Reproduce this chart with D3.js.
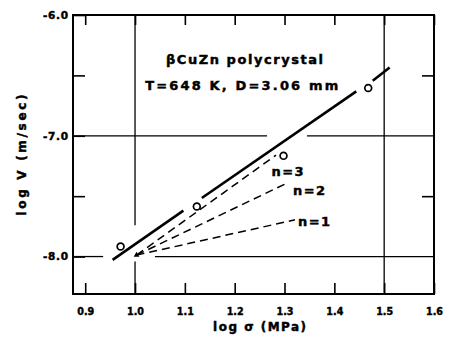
<!DOCTYPE html>
<head>
    <meta charset="utf-8">
    <title>log V vs log sigma</title>
    <script type="text/javascript" src="https://d3js.org/d3.v7.min.js"></script>
    <style>
        body { margin: 0; background: #fff; }
        text { font-family: "DejaVu Sans", "Liberation Sans", Arial, sans-serif; font-weight: bold; fill: #000; stroke: #000; stroke-width: 0.45px; }
    </style>
</head>
<body>
<div id="container"></div>

<script>
    //------------------------------DATA------------------------------//
    const xTicks = [0.9, 1.0, 1.1, 1.2, 1.3, 1.4, 1.5, 1.6];
    const yTicks = [-6.0, -7.0, -8.0];
    const yMinor = [-6.5, -7.5];
    const xGrid = [1.0, 1.5];
    const yGrid = [-7.0, -8.0];

    // measured points (open circles)
    const points = [
        {x: 0.971, y: -7.917},
        {x: 1.124, y: -7.586},
        {x: 1.298, y: -7.166},
        {x: 1.468, y: -6.605}
    ];

    // solid fit line, broken around the circles
    const fitSegments = [
        [[0.955, -8.027], [1.097, -7.620]],
        [[1.134, -7.515], [1.444, -6.632]],
        [[1.477, -6.545], [1.511, -6.435]]
    ];

    // dashed lines for n = 1, 2, 3
    const nLabels = ["n=1", "n=2", "n=3"];
    const nLines = [
        [[1.003, -7.988], [1.321, -7.696]],
        [[1.003, -7.988], [1.305, -7.392]],
        [[1.003, -7.988], [1.283, -7.160]]
    ];
    const nLabelAt = [[1.327, -7.743], [1.317, -7.493], [1.274, -7.332]];

    //------------------------------SVG-------------------------------//
    const W = 452, H = 338;
    const margin = {top: 15, right: 18, bottom: 44, left: 73};
    const width = W - margin.left - margin.right;
    const height = H - margin.top - margin.bottom;
    const FONT = "'DejaVu Sans', 'Liberation Sans', Arial, sans-serif";

    const svg = d3.select("#container").append("svg")
        .attr("width", W)
        .attr("height", H);

    const g = svg.append("g")
        .attr("transform", "translate(" + margin.left + "," + margin.top + ")");

    const x = d3.scaleLinear().domain([0.8755, 1.6]).range([0, width]);
    const y = d3.scaleLinear().domain([-8.31, -6.0]).range([height, 0]);

    //------------------------------GRID------------------------------//
    // gaps in the grid lines, as in the original drawing
    const hGap = {"-7": [1.265, 1.345], "-8": [0.936, 1.04]};
    yGrid.forEach(function(v) {
        const gap = hGap[String(v)];
        const parts = gap ? [[x.domain()[0], gap[0]], [gap[1], x.domain()[1]]] : [x.domain()];
        parts.forEach(function(p) {
            g.append("line")
                .attr("x1", x(p[0])).attr("x2", x(p[1]))
                .attr("y1", y(v)).attr("y2", y(v))
                .attr("stroke", "#000").attr("stroke-width", 1.3);
        });
    });
    const vGap = {"1": [-7.74, -8.04]};
    xGrid.forEach(function(v) {
        const gap = vGap[String(v)];
        const parts = gap ? [[y.domain()[1], gap[0]], [gap[1], y.domain()[0]]] : [[y.domain()[1], y.domain()[0]]];
        parts.forEach(function(p) {
            g.append("line")
                .attr("x1", x(v)).attr("x2", x(v))
                .attr("y1", y(p[0])).attr("y2", y(p[1]))
                .attr("stroke", "#000").attr("stroke-width", 1.3);
        });
    });

    //------------------------------AXES------------------------------//
    const fmt = function(d) { return d.toFixed(1); };

    const xAxis = d3.axisBottom(x)
        .tickValues(xTicks)
        .tickFormat(fmt)
        .tickSizeInner(-11).tickSizeOuter(0)
        .tickPadding(14);
    const gx = g.append("g")
        .attr("transform", "translate(0," + height + ")")
        .call(xAxis);

    const gxTop = g.append("g")
        .call(d3.axisTop(x).tickValues(xTicks).tickFormat("").tickSizeInner(-10).tickSizeOuter(0));

    const yAxis = d3.axisLeft(y)
        .tickValues(yTicks.concat(yMinor))
        .tickFormat(function(d) { return yTicks.indexOf(d) >= 0 ? fmt(d) : ""; })
        .tickSizeInner(-12).tickSizeOuter(0)
        .tickPadding(5);
    const gy = g.append("g").call(yAxis);

    const gyRight = g.append("g")
        .attr("transform", "translate(" + width + ",0)")
        .call(d3.axisRight(y).tickValues(yMinor).tickFormat("").tickSizeInner(-12).tickSizeOuter(0));

    [gx, gxTop, gy, gyRight].forEach(function(a) {
        a.select(".domain").remove();
        a.selectAll(".tick line").attr("stroke", "#000").attr("stroke-width", 1.6);
        a.selectAll("text")
            .style("font-family", FONT)
            .style("font-weight", "bold")
            .style("font-size", "10.5px")
            .attr("fill", "#000");
    });
    gx.selectAll(".tick text").attr("textLength", 17).attr("lengthAdjust", "spacingAndGlyphs");
    gy.selectAll(".tick text").attr("textLength", 25).attr("lengthAdjust", "spacing");

    // frame
    g.append("rect")
        .attr("x", 0).attr("y", 0)
        .attr("width", width).attr("height", height)
        .attr("fill", "none")
        .attr("stroke", "#000").attr("stroke-width", 2);

    // axis titles
    svg.append("text")
        .attr("x", margin.left + x(1.25))
        .attr("y", 331)
        .attr("text-anchor", "middle")
        .style("font-size", "12px")
        .attr("textLength", 93).attr("lengthAdjust", "spacing")
        .text("log \u03c3 (MPa)");

    svg.append("text")
        .attr("transform", "translate(26," + 155 + ") rotate(-90)")
        .attr("text-anchor", "middle")
        .style("font-size", "12px")
        .attr("textLength", 121).attr("lengthAdjust", "spacing")
        .text("log V (m/sec)");

    //------------------------------LINES-----------------------------//
    const line = d3.line()
        .x(function(d) { return x(d[0]); })
        .y(function(d) { return y(d[1]); });

    g.selectAll(".fit")
        .data(fitSegments)
        .enter().append("path")
        .attr("class", "fit")
        .attr("d", line)
        .attr("fill", "none")
        .attr("stroke", "#000")
        .attr("stroke-width", 2.6);

    g.selectAll(".nline")
        .data(nLines)
        .enter().append("path")
        .attr("class", "nline")
        .attr("d", line)
        .attr("fill", "none")
        .attr("stroke", "#000")
        .attr("stroke-width", 1.5)
        .attr("stroke-dasharray", "8,5");

    // little arrow head where the dashed lines meet
    g.append("path")
        .attr("d", d3.symbol().type(d3.symbolTriangle).size(14))
        .attr("transform", "translate(" + x(nLines[1][0][0]) + "," + y(nLines[1][0][1]) + ") rotate(-120)")
        .attr("fill", "#000");

    g.selectAll(".nlabel")
        .data(nLabels)
        .enter().append("text")
        .attr("class", "nlabel")
        .attr("x", function(d, i) { return x(nLabelAt[i][0]); })
        .attr("y", function(d, i) { return y(nLabelAt[i][1]); })
        .style("font-size", "13px")
        .attr("textLength", 32).attr("lengthAdjust", "spacing")
        .text(function(d) { return d; });

    g.selectAll(".pt")
        .data(points)
        .enter().append("circle")
        .attr("class", "pt")
        .attr("cx", function(d) { return x(d.x); })
        .attr("cy", function(d) { return y(d.y); })
        .attr("r", 3.4)
        .attr("fill", "#fff")
        .attr("stroke", "#000")
        .attr("stroke-width", 1.7);

    //---------------------------ANNOTATION---------------------------//
    svg.append("text")
        .attr("x", 244.5).attr("y", 64)
        .attr("text-anchor", "middle")
        .style("font-size", "13px")
        .attr("textLength", 157).attr("lengthAdjust", "spacing")
        .text("\u03b2CuZn polycrystal");

    svg.append("text")
        .attr("x", 241.7).attr("y", 90)
        .attr("text-anchor", "middle")
        .style("font-size", "13px")
        .attr("textLength", 193).attr("lengthAdjust", "spacing")
        .text("T=648 K, D=3.06 mm");
</script>
</body>
